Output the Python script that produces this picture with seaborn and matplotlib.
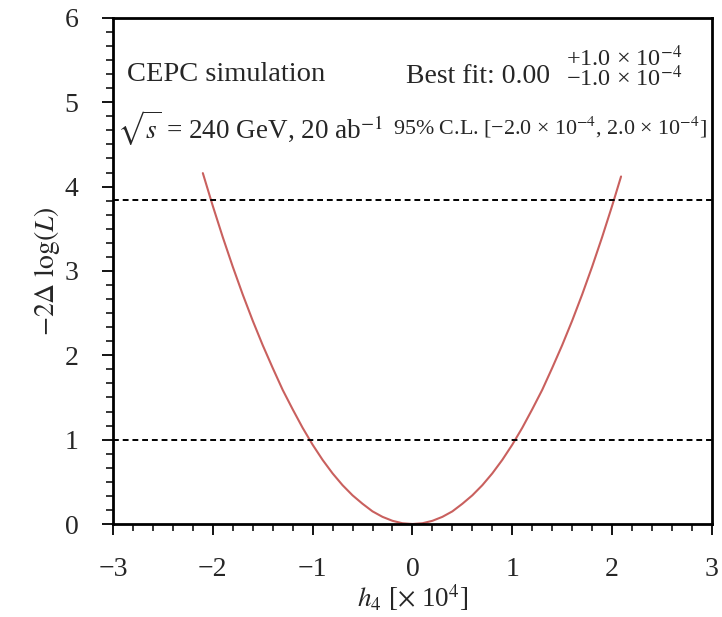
import numpy as np
import pandas as pd
import matplotlib
matplotlib.use("Agg")
import matplotlib.pyplot as plt
from matplotlib.ticker import MultipleLocator
import seaborn as sns

# curve values (h4 in units of 1e-4, -2 dlogL)
h4 = [-2.10, -2.00, -1.90, -1.80, -1.70, -1.60, -1.50, -1.40, -1.30, -1.20,
      -1.10, -1.00, -0.90, -0.80, -0.70, -0.60, -0.50, -0.40, -0.30, -0.20,
      -0.10, 0.00, 0.10, 0.20, 0.30, 0.40, 0.50, 0.60, 0.70, 0.80, 0.90,
      1.00, 1.10, 1.20, 1.30, 1.40, 1.50, 1.60, 1.70, 1.80, 1.90, 2.00, 2.09]
nll = [4.16, 3.77, 3.40, 3.05, 2.72, 2.41, 2.12, 1.85, 1.59, 1.36,
       1.14, 0.94, 0.76, 0.60, 0.46, 0.34, 0.24, 0.15, 0.085, 0.038,
       0.009, 0.00, 0.009, 0.038, 0.085, 0.15, 0.24, 0.34, 0.46, 0.60, 0.76,
       0.94, 1.14, 1.36, 1.59, 1.85, 2.12, 2.41, 2.72, 3.05, 3.40, 3.77, 4.12]
ref_levels = [1.0, 3.84]

sns.set_style("ticks")
plt.rcParams["font.family"] = ["Liberation Serif", "DejaVu Serif"]
plt.rcParams["mathtext.fontset"] = "stix"

df = pd.DataFrame({"h4": h4, "nll": nll})

fig = plt.figure(figsize=(7.22, 6.17), dpi=100)
ax = fig.add_axes([0.1565, 0.1507, 0.8295, 0.8203])

sns.lineplot(data=df, x="h4", y="nll", ax=ax, color="#c9605e", lw=1.5,
             sort=False)
for lv in ref_levels:
    ax.axhline(lv, color="black", ls=(0, (3, 2)), lw=1.4)

ax.set_xlim(-3, 3)
ax.set_ylim(0, 6)
ax.xaxis.set_major_locator(MultipleLocator(1))
ax.xaxis.set_minor_locator(MultipleLocator(0.2))
ax.yaxis.set_major_locator(MultipleLocator(1))
ax.yaxis.set_minor_locator(MultipleLocator(1 / 6))
ax.tick_params(which="major", direction="out", length=8, width=1.3,
               labelsize=20, color="black")
ax.tick_params(which="minor", direction="out", length=5, width=1.1,
               color="black")
ax.tick_params(axis="x", which="major", pad=16)
ax.tick_params(axis="y", which="major", pad=17)
for s in ax.spines.values():
    s.set_visible(True)
    s.set_linewidth(2)
    s.set_color("black")

ax.set_xlabel(r"$h_4$ [$\times$ 10$^4$]", fontsize=19.5, labelpad=0)
ax.set_ylabel(r"$-2\Delta\ \log(L)$", fontsize=20, labelpad=2)

ax.text(0.024, 0.889, "CEPC simulation", transform=ax.transAxes,
        fontsize=20.5, va="center", ha="left")
ax.text(0.49, 0.8715, "Best fit: 0.00", transform=ax.transAxes,
        fontsize=20, va="baseline", ha="left")
ax.text(0.757, 0.905, "+1.0 × 10$^{-4}$", transform=ax.transAxes,
        fontsize=17.5, va="baseline", ha="left")
ax.text(0.757, 0.866, "−1.0 × 10$^{-4}$", transform=ax.transAxes,
        fontsize=17.5, va="baseline", ha="left")
ax.text(0.007, 0.783, r"$\sqrt{s}$ = 240 GeV, 20 ab$^{-1}$",
        transform=ax.transAxes, fontsize=19.5, va="center", ha="left")
ax.text(0.468, 0.783,
        "95% C.L. [−2.0 × 10$^{-4}$, 2.0 × 10$^{-4}$]",
        transform=ax.transAxes, fontsize=15.8, va="center", ha="left")

fig.savefig("out.png", dpi=100)
